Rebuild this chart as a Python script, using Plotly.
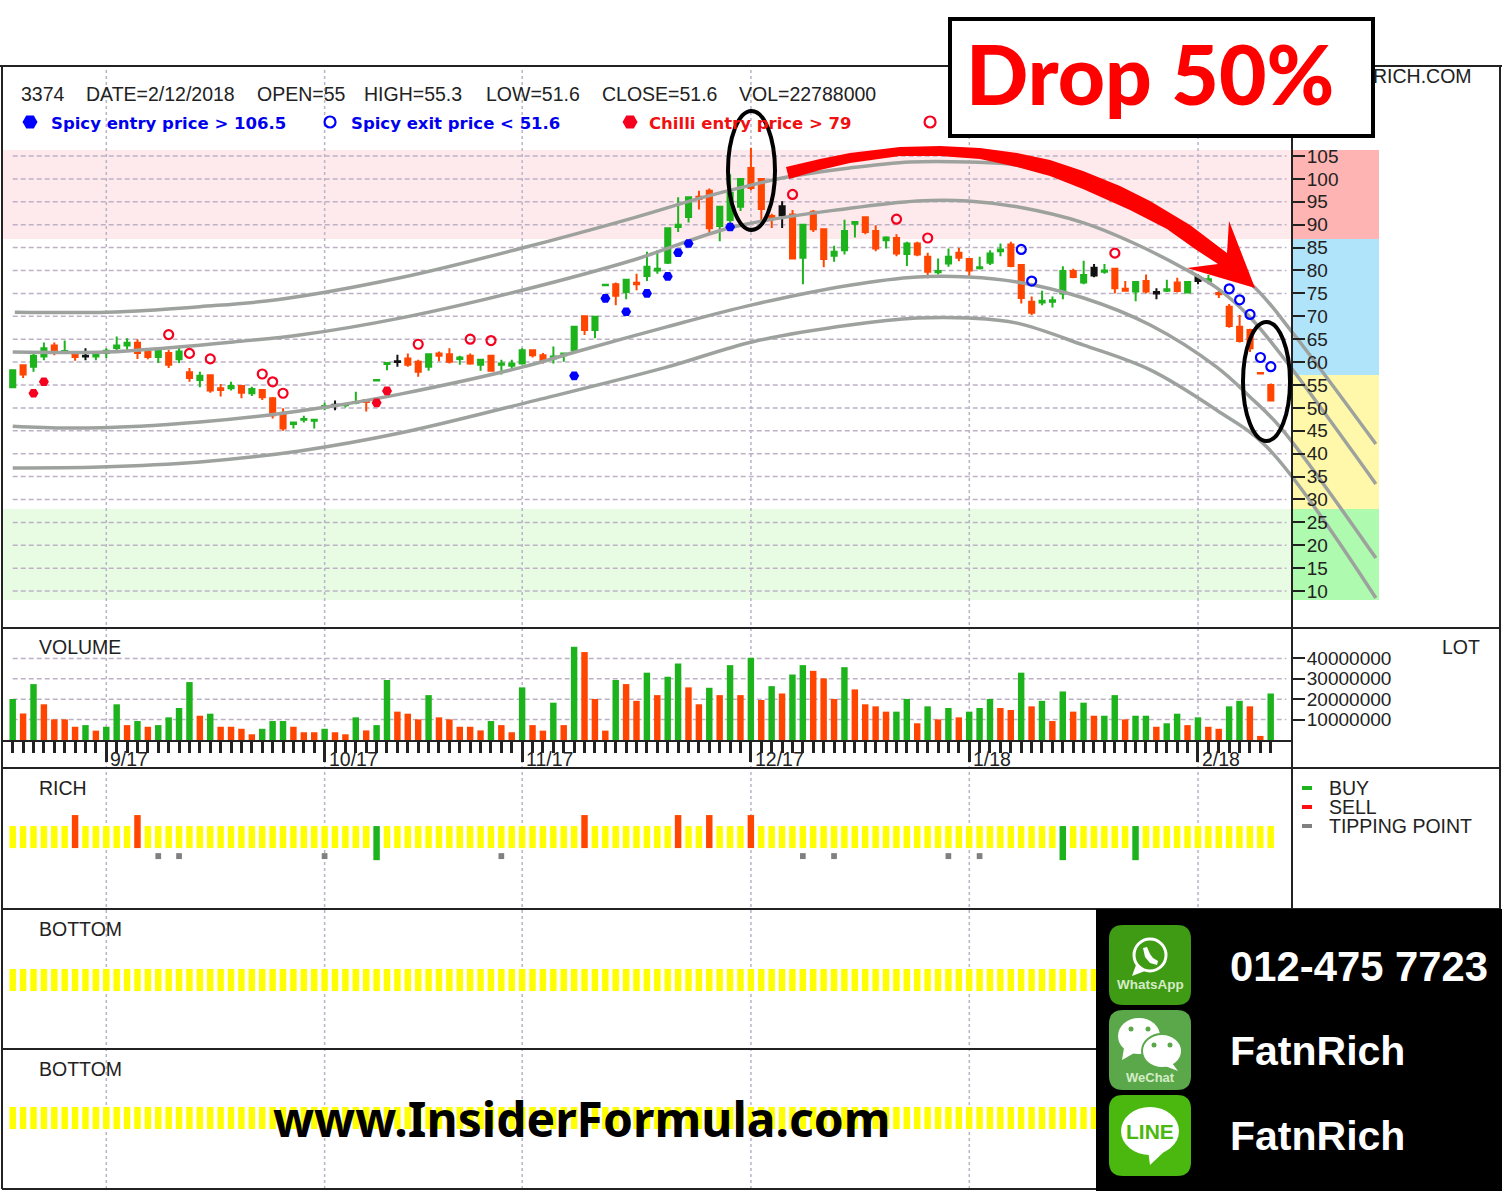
import plotly.graph_objects as go

W, H = 1502, 1191
def X(p): return p / W
def Y(p): return 1 - p / H
def P(x, y): return f"{X(x):.5f},{Y(y):.5f}"
def poly(pts): return "M " + " L ".join(P(a, b) for a, b in pts) + " Z"
def rrect(x0, y0, x1, y1, r):
    return (f"M {P(x0+r,y0)} L {P(x1-r,y0)} Q {P(x1,y0)} {P(x1,y0+r)} L {P(x1,y1-r)} Q {P(x1,y1)} {P(x1-r,y1)} "
            f"L {P(x0+r,y1)} Q {P(x0,y1)} {P(x0,y1-r)} L {P(x0,y0+r)} Q {P(x0,y0)} {P(x0+r,y0)} Z")

# ---------- data ----------
days = list(range(122))
opens = [54.5,59.3,59,61.2,63.6,62.2,62.2,61.4,61.2,62,63.1,63.6,64.2,62.5,61.1,62,60.6,57.8,56.1,57.1,54.3,54.3,54.8,53.2,53.9,52.1,48.8,46.5,47.4,47.2,50.1,50.5,50.6,51.1,51.7,56,59.6,60,60.8,60.1,59,61.9,61.7,60.7,61.4,59.4,61.4,59.4,59.2,59.7,62.6,61.5,60.8,61.5,62.6,70,67,76.8,77,75.3,77.3,78.8,80,81.7,89.5,91.7,96.1,97.4,89.7,91,93.9,102.4,100,91.9,92,92.2,82.8,92.8,89,83.2,84.4,90.2,91.6,88.6,86.6,87.1,83.6,85.9,83,79.6,81.5,83.9,82.5,80.5,81.7,84.2,85.7,81.2,73.2,73,73.2,75,79.9,77.4,78.9,79.7,80.4,76,75.4,77.7,75,75.6,77.4,75.2,77.7,77.7,75.1,72.1,67.7,67,57.6,55]
highs = [58.2,59.3,62.3,64.3,64.3,64.7,62.2,63,62,63,65.6,65.2,65,62.6,62.9,62.7,63.4,58.7,57.9,57.1,55.2,55.7,54.8,54.6,53.9,52.4,49.9,47,48.3,47.4,51.1,51.6,50.7,53.5,51.7,56.1,59.8,61.6,61.9,60.5,61.7,62.3,63,61.4,61.9,60.5,61.4,60.5,60.5,63,62.6,62,63.4,61.9,67.7,70.2,69.9,76.9,77.4,78,79.3,84.1,84.4,89.2,96,96.1,97.4,97.9,93.9,101,100,106.8,100,92.4,95.1,93.2,90,93.2,89,85.4,91.1,90.6,91.6,89.9,87.5,87.9,86.3,86.3,83.9,82.6,84.8,84.9,82.5,83,84.4,85.9,86.3,81.2,74.3,75.6,74.3,80.9,80.4,82.1,81.4,81.4,80.4,77.7,77.5,79.1,76.1,78,78.4,77.5,79.2,79,75.7,72.7,70.3,67.3,57.6,55.3]
lows = [54.3,56.5,57.9,60.4,61.5,62,60.3,60.4,60.4,60.9,62,62.7,60.7,60.6,59.8,58.7,59.8,55.7,54.5,53.3,52.5,53.8,52.1,52.6,51.7,47.7,45,45.5,46.8,45.5,49.5,49.5,50.1,50.8,49.2,56,58.2,59,59,56.8,58.1,60.2,59.7,59.4,59.4,58.1,58,57.3,58.6,59.5,61,59.7,59.7,60.1,62.3,65.9,65.2,76.8,72.4,73.7,75.7,77.7,79.3,81.4,88.4,90.5,93.3,88.1,86.4,90,93,97.5,90.6,89.3,89.3,82.5,77,88.4,80.7,81.9,83.5,87.2,87.9,84.2,84.8,83.1,81,83.1,78.3,79.1,80.8,82,78.6,80.2,81.2,83.1,80.7,72.8,70.3,72.4,71.9,73.7,78.3,77,78.5,79.3,75,75.5,73.3,75,73.7,75.3,75.2,75.2,77,77,74,67.5,64.3,62.2,57.5,51.6]
closes = [58.2,57.3,61.4,63,62.1,62.4,61.1,61.2,61.6,62.5,63.6,64.2,62,61.1,62.9,59.4,62.3,56.5,57,53.8,53.9,54.8,53.3,54.1,52.3,48.4,45.5,46.8,47.6,47.4,50.4,50.7,50.7,51.3,51.3,56.1,59.8,60.2,59.4,57.9,61.7,61.4,60.1,61,59.7,60.5,58.1,59.7,59.7,62.6,61.5,60.2,61.2,61.9,67.7,67,69.9,76.9,74.5,78,77,80.8,80.4,89.2,90,96,95.6,89.2,93.9,97,100,98,93.4,91.5,94,82.6,90,89,82.5,84.1,88.6,90.6,88.4,84.8,87.2,83.7,85.9,83.5,79.7,79.9,83,82.8,80,80.7,83.7,84.6,81,74,70.8,73.4,73.5,79.9,78.6,79,80.6,80,76.1,75.6,77.5,75.4,75.3,75.9,75.5,77.5,78.6,78.1,74.8,67.9,64.6,63,57.5,51.6]
candle_colors = list(
    "grggrgrkgg" "ggrrgrgrgr" "rgrgrrrggg"
    "gkggrggkrr" "grrgrgrggg" "rrgggrggrg"
    "rgggggrrgg" "grrrkrgrrg" "ggrrgrgrrg"
    "grrgggrrrg" "ggrgkgrrgr" "kgrgkgrrrr"
    "rr")

vol_m = [20.1,13,27.4,17.5,10.1,10.1,6.5,7.3,4.6,6.5,17.5,7.3,9.3,6.5,7.3,11.1,15.7,28.4,11.9,12.9,6.5,6.5,5.5,2.8,5.5,9.3,9.3,6.5,3.8,3.8,5.5,3.8,2.8,11.1,4.7,7.3,29.4,13.9,12.9,10.1,22,11.1,10.1,6.5,6.5,4.7,9.3,7.3,3.8,25.8,7.3,4.6,18.3,7.3,45.7,43.1,20.1,4.6,29.4,27.4,19.2,33,22,31,37.5,25.8,17.5,25.6,22,36.7,22,40.3,19.6,26.4,22.8,32.1,36.7,33.9,30.2,20.1,35.7,24.8,17.5,16.5,13.9,13.9,20.1,8.2,16.5,10.1,15.7,11.1,13.9,15.7,20.1,15.7,14.7,33,16.5,19.2,9.3,23.8,13.9,18.3,11.9,11.9,22,10.1,11.9,11.9,6.5,8.2,12.9,7.3,11.1,6.5,5.5,16.5,19.2,16.5,2,22.8]
vol_green = [0,2,7,9,10,12,14,15,16,17,19,24,25,26,30,33,35,36,40,46,49,52,54,58,61,63,64,67,69,71,73,75,76,80,85,86,88,90,92,93,94,97,99,101,103,105,106,108,109,111,112,114,117,118,121]

rich_sell = [6,12,55,64,67,71]
rich_buy = [35,101,108]
rich_tip = [14,16,30,47,76,79,90,93]

chilli_in_x, chilli_in_y = [2,3,35,36], [53.2,55.7,51.1,53.7]
spicy_in_x, spicy_in_y = [54,57,59,61,63,64,65,69], [57,73.9,71,75,78.7,83.9,85.9,89.5]
chilli_out_x, chilli_out_y = [15,17,19,24,25,26,39,44,46,75,85,88,106], [66,61.9,60.7,57.4,55.7,53.2,63.9,65,64.7,96.6,91.2,87.1,83.8]
spicy_out_x, spicy_out_y = [97,98,117,118,119,120,121], [84.6,77.7,76,73.6,70.4,61,59]

band1_x = [0.2,9.07,13.7,18,25.4,37.25,49,59.7,66.1,71.1,74.5,80.5,86.3,91.9,96.6,103,109.4,114.2,119.5,123.1,131.1]
band1_y = [70.9,70.9,71.4,72.1,73.6,78.4,84.9,91.5,95.8,98.7,100.4,102.4,103.7,103.7,103,99.1,92.1,85.6,76.2,66.4,42.1]
band2_x = [0,9.07,14.8,21.2,27.6,37.25,49,59.7,69.3,80.5,87,91.9,96.6,103,107.8,112.6,115.8,119,122.6,131.1]
band2_y = [62.2,62.2,63.1,64.4,65.9,69.6,75.7,82.3,89.5,93.6,95.2,95.2,93.9,90.4,86,80.5,76.2,69.8,59.8,33.4]
band3_x = [0,5.2,12.2,18,24.5,30.8,37.25,49,54.1,62.9,71.1,80.5,87,91.9,96.6,103,109.4,115.8,119,121.9,131.1]
band3_y = [46,45.6,46,46.9,48.4,50.4,53,58.9,62.2,67.7,72.5,76.8,78.6,78.6,77.5,74,68.1,58.9,52.4,45.8,17.2]
band4_x = [0,8.4,18,27.6,37.25,50.4,62.9,71.1,80.5,87,91.9,96.6,103,109.4,115.8,120.6,131.1]
band4_y = [36.9,37.1,38.2,40.6,44.5,51.7,58.9,64.4,68.1,69.6,69.6,68.5,63.7,58.3,49.5,41.5,8.5]

price_ticks = [105,100,95,90,85,80,75,70,65,60,55,50,45,40,35,30,25,20,15,10]
vol_ticks = [10000000,20000000,30000000,40000000]
month_pos = [9,30,49,71,92,114]
month_labels = ["9/17","10/17","11/17","12/17","1/18","2/18"]

# ---------- styles ----------
GREEN, RED, BLACK = "#1db31d", "#ff4500", "#111111"
col = {"g": GREEN, "r": RED, "k": BLACK}
GRID = "#bdb1c6"
FONT = "Liberation Sans"
TXT = "#222222"
FS = 19.5
TICK_FS = 19

fig = go.Figure()

# bands
for bx, by in [(band1_x, band1_y), (band2_x, band2_y), (band3_x, band3_y), (band4_x, band4_y)]:
    fig.add_trace(go.Scatter(x=bx, y=by, mode="lines", xaxis="x", yaxis="y", showlegend=False,
                             line=dict(color="#9ea29e", width=3.5, shape="spline", smoothing=1.0)))

# candles
for key in "grk":
    idx = [candle_colors[d] == key for d in days]
    sel = lambda arr: [v if m else None for v, m in zip(arr, idx)]
    fig.add_trace(go.Candlestick(
        x=days, open=sel(opens), high=sel(highs), low=sel(lows), close=sel(closes),
        increasing=dict(line=dict(color=col[key], width=2), fillcolor=col[key]),
        decreasing=dict(line=dict(color=col[key], width=2), fillcolor=col[key]),
        whiskerwidth=0, xaxis="x", yaxis="y", showlegend=False, hoverinfo="skip"))

# markers
def mk(xs, ys, color, sym, size, lw=0):
    fig.add_trace(go.Scatter(x=xs, y=ys, mode="markers", xaxis="x", yaxis="y", showlegend=False,
                             marker=dict(color=color, symbol=sym, size=size, line=dict(width=lw, color=color))))
mk(chilli_in_x, chilli_in_y, "#f5001e", "hexagon2", 10)
mk(spicy_in_x, spicy_in_y, "#0000ff", "hexagon2", 10)
mk(chilli_out_x, chilli_out_y, "#f5001e", "circle-open", 9, 2.2)
mk(spicy_out_x, spicy_out_y, "#0000ff", "circle-open", 9, 2.2)

# volume
fig.add_trace(go.Bar(x=days, y=[v * 1e6 for v in vol_m], width=0.62, xaxis="x2", yaxis="y2", showlegend=False,
                     marker=dict(color=[GREEN if d in vol_green else RED for d in days], line=dict(width=0))))

# signal panes
r_base = [-0.55 if d in rich_buy else 0 for d in days]
r_height = [1.55 if d in rich_buy else (1.5 if d in rich_sell else 1) for d in days]
r_color = [GREEN if d in rich_buy else (RED if d in rich_sell else "#ffff00") for d in days]
fig.add_trace(go.Bar(x=days, y=r_height, base=r_base, width=0.62, xaxis="x3", yaxis="y3", showlegend=False,
                     marker=dict(color=r_color, line=dict(width=0))))
fig.add_trace(go.Bar(x=rich_tip, y=[0.27] * len(rich_tip), base=[-0.5] * len(rich_tip), width=0.55, xaxis="x3", yaxis="y3",
                     showlegend=False, marker=dict(color="#808080", line=dict(width=0))))
for xa, ya in [("x4", "y4"), ("x5", "y5")]:
    fig.add_trace(go.Bar(x=days, y=[1] * len(days), width=0.62, xaxis=xa, yaxis=ya, showlegend=False,
                         marker=dict(color="#ffff00", line=dict(width=0))))

# ---------- shapes ----------
shapes = []
def line(x0, y0, x1, y1, color="#222222", width=2):
    shapes.append(dict(type="line", xref="paper", yref="paper", x0=X(x0), y0=Y(y0), x1=X(x1), y1=Y(y1),
                       line=dict(color=color, width=width), layer="above"))
def pzone(x0, x1, y0, y1, fill):
    shapes.append(dict(type="rect", xref="paper", yref="paper", x0=X(x0), x1=X(x1), y0=Y(y0), y1=Y(y1),
                       fillcolor=fill, line=dict(width=0), layer="below"))
pzone(2, 1292, 150, 239, "#feeaec")
pzone(2, 1292, 509, 600, "#e8fce4")
pzone(1292, 1379, 150, 239, "#fdb4b2")
pzone(1292, 1379, 239, 375, "#b0e4fa")
pzone(1292, 1379, 375, 509, "#fff8aa")
pzone(1292, 1379, 509, 600, "#aefaae")
for p in price_ticks:
    shapes.append(dict(type="line", xref="x", yref="y", x0=0, x1=122.5, y0=p, y1=p, layer="below",
                       line=dict(color=GRID, width=1.5, dash="5px,3px")))
for v in vol_ticks:
    shapes.append(dict(type="line", xref="x2", yref="y2", x0=0, x1=122.5, y0=v, y1=v, layer="below",
                       line=dict(color=GRID, width=1.5, dash="5px,3px")))
for m in month_pos:
    shapes.append(dict(type="line", xref="x", yref="paper", x0=m, x1=m, y0=Y(1189), y1=Y(66), layer="below",
                       line=dict(color="#b8b4c8", width=1.5, dash="3px,3px")))

# frame
line(0, 66, 1502, 66); line(2, 66, 2, 1189); line(1500, 66, 1500, 909)
line(2, 628, 1500, 628); line(2, 768, 1500, 768); line(2, 909, 1500, 909); line(2, 1049, 1100, 1049)
line(2, 1189, 1100, 1189); line(1292, 66, 1292, 909)
for yy, c in [(788, GREEN), (807, "#ff1010"), (826, "#808080")]:
    line(1302, yy, 1312, yy, c, 4)

# ellipses
for x0, y0, x1, y1 in [(728, 111, 775, 230), (1243, 322, 1290, 441)]:
    shapes.append(dict(type="circle", xref="paper", yref="paper", x0=X(x0), x1=X(x1), y0=Y(y0), y1=Y(y1),
                       line=dict(color="#000000", width=4), layer="above"))

# arrow
arrow = [(786,167),(820,159),(850,153),(900,147),(940,146),(980,148),(1017,153),(1050,160),(1083,171),(1120,186),
         (1150,201),(1190,225),(1227,253),(1229,221),(1255,288),(1187,268),(1218,264),(1195,249),(1167,229),
         (1130,210),(1083,189),(1050,176),(1017,167),(980,159),(940,156),(900,156),(850,163),(820,170),(789,179)]
shapes.append(dict(type="path", xref="paper", yref="paper", path=poly(arrow), fillcolor="#ff0000",
                   line=dict(width=0), layer="above"))
# title box
shapes.append(dict(type="rect", xref="paper", yref="paper", x0=X(950), x1=X(1373), y0=Y(19), y1=Y(136),
                   fillcolor="#ffffff", line=dict(color="#000000", width=4), layer="above"))
# contact panel
shapes.append(dict(type="rect", xref="paper", yref="paper", x0=X(1096), x1=X(1502), y0=Y(909), y1=Y(1191),
                   fillcolor="#000000", line=dict(width=0), layer="above"))
def ell(cx, cy, rx, ry, fill="#ffffff", lc=None, lw=0):
    shapes.append(dict(type="circle", xref="paper", yref="paper", x0=X(cx-rx), x1=X(cx+rx), y0=Y(cy-ry), y1=Y(cy+ry),
                       fillcolor=fill, line=dict(color=lc or fill, width=lw), layer="above"))
def path(d, fill, lc=None, lw=0):
    shapes.append(dict(type="path", xref="paper", yref="paper", path=d, fillcolor=fill,
                       line=dict(color=lc or fill, width=lw), layer="above"))
path(rrect(1109, 925, 1191, 1005, 14), "#3f9a14")
ell(1150, 955, 16, 16, "#3f9a14", "#ffffff", 3)
path(poly([(1136,965),(1132,976),(1145,971)]), "#ffffff")
path(poly([(1143,948),(1147,947),(1150,954),(1153,958),(1158,961),(1157,965),(1150,963),(1145,957)]), "#ffffff")
path(rrect(1109, 1010, 1191, 1090, 14), "#5aa84a")
ell(1139, 1036, 21, 18); path(poly([(1124,1048),(1122,1060),(1136,1052)]), "#ffffff")
ell(1162, 1051, 20, 17, "#ffffff", "#5aa84a", 2); path(poly([(1172,1063),(1178,1071),(1165,1066)]), "#ffffff")
for cx, cy, c in [(1131,1029,"#5aa84a"),(1148,1029,"#5aa84a"),(1154,1045,"#5aa84a"),(1170,1045,"#5aa84a")]:
    ell(cx, cy, 2.5, 2.5, c)
path(rrect(1109, 1095, 1191, 1176, 14), "#4ab80f")
ell(1150, 1131, 29, 24); path(poly([(1148,1150),(1150,1165),(1168,1148)]), "#ffffff")

# ---------- text ----------
ann = []
def T(x, y, s, color=TXT, size=FS, bold=False, anchor="left", fam=FONT, weight=None):
    f = dict(family=fam, size=size, color=color)
    if weight:
        f["weight"] = weight
    ann.append(dict(xref="paper", yref="paper", x=X(x), y=Y(y), text=f"<b>{s}</b>" if bold else s, showarrow=False,
                    xanchor=anchor, yanchor="middle", font=f, borderpad=0))
for x, s in [(20, "3374"), (85, "DATE=2/12/2018"), (256, "OPEN=55"), (363, "HIGH=55.3"), (485, "LOW=51.6"),
             (601, "CLOSE=51.6"), (738, "VOL=22788000")]:
    T(x, 94, s)
T(50, 123, "Spicy entry price &gt; 106.5", "#0000ee", 16.5, True, fam="DejaVu Sans")
T(350, 123, "Spicy exit price &lt; 51.6", "#0000ee", 16.5, True, fam="DejaVu Sans")
T(648, 123, "Chilli entry price &gt; 79", "#f01010", 16.5, True, fam="DejaVu Sans")
T(1473, 76, "RICH.COM", anchor="right")
T(38, 647, "VOLUME"); T(38, 788, "RICH"); T(38, 929, "BOTTOM"); T(38, 1069, "BOTTOM"); T(1441, 647, "LOT")
T(1328, 788, "BUY"); T(1328, 807, "SELL"); T(1328, 826, "TIPPING POINT")
T(965, 73, "Drop 50%", "#ff0000", 82, False, fam="Lato", weight=900)
T(272, 1118, "www.InsiderFormula.com", "#000000", 48, True, fam="Noto Sans")
T(1229, 966, "012-475 7723", "#ffffff", 41.8, True)
T(1229, 1051, "FatnRich", "#ffffff", 41, True)
T(1229, 1136, "FatnRich", "#ffffff", 41, True)
T(1150, 985, "WhatsApp", "#d5ecc6", 13.5, True, "center")
T(1150, 1077, "WeChat", "#d5ecc6", 13, True, "center")
T(1150, 1131, "LINE", "#4ab80f", 21, True, "center")
for m, s in zip(month_pos, month_labels):
    ann.append(dict(xref="x2", yref="paper", x=m, y=Y(759), text=s, showarrow=False, xanchor="left", xshift=2,
                    yanchor="middle", font=dict(family=FONT, size=FS, color=TXT)))

# marker keys in the header line
header_keys = [(30, "#0000ff", "hexagon2", 0), (330, "#0000ff", "circle-open", 2.2),
               (630, "#f5001e", "hexagon2", 0), (930, "#f5001e", "circle-open", 2.2)]
for hx, hc, hs, lw in header_keys:
    fig.add_trace(go.Scatter(x=[(hx - 12.7) / 10.397], y=[105 - (122 - 156) / 4.58], mode="markers", xaxis="x", yaxis="y",
                             showlegend=False, marker=dict(color=hc, symbol=hs, size=11 if lw else 15, line=dict(width=lw, color=hc))))

# ---------- axes ----------
i_left = -1.03
x_main = dict(domain=[X(2), X(1380)], range=[i_left, 131.5], visible=False, rangeslider=dict(visible=False), fixedrange=True)
x_sub = dict(domain=[X(2), X(1292)], range=[i_left, 123.05], fixedrange=True)
hidden = dict(visible=False)
fig.update_layout(
    width=W, height=H, margin=dict(l=0, r=0, t=0, b=0, pad=0, autoexpand=False),
    paper_bgcolor="#ffffff", plot_bgcolor="rgba(0,0,0,0)", barmode="overlay", showlegend=False,
    shapes=shapes, annotations=ann, font=dict(family=FONT, color=TXT), hovermode=False,
    xaxis=x_main,
    yaxis=dict(domain=[Y(628), Y(66)], range=[1.94, 124.65], anchor="free", position=X(1292), side="right",
               tickvals=price_ticks, ticks="outside", ticklen=12, tickwidth=2, tickcolor="#222222", ticklabelstandoff=-2,
               showline=False, showgrid=False, zeroline=False, tickfont=dict(size=TICK_FS, family=FONT, color=TXT), fixedrange=True),
    xaxis2=dict(**x_sub, anchor="y2", showline=True, linecolor="#222222", linewidth=2, showgrid=False, zeroline=False,
                tickmode="array", tickvals=month_pos, showticklabels=False, ticks="outside", ticklen=20, tickwidth=2.5, tickcolor="#222222",
                minor=dict(tickmode="array", tickvals=days, ticks="outside", ticklen=11, tickwidth=2.5, tickcolor="#222222", showgrid=False)),
    yaxis2=dict(domain=[Y(740), Y(628)], range=[0, 54.9e6], anchor="free", position=X(1292), side="right",
                tickvals=vol_ticks, ticks="outside", ticklen=12, tickwidth=2, tickcolor="#222222", tickformat="d", ticklabelstandoff=-2,
                showline=False, showgrid=False, zeroline=False, tickfont=dict(size=TICK_FS, family=FONT, color=TXT), fixedrange=True),
    xaxis3=dict(**x_sub, anchor="y3", **hidden),
    yaxis3=dict(domain=[Y(909), Y(768)], range=[-2.77, 3.64], anchor="x3", **hidden),
    xaxis4=dict(**x_sub, anchor="y4", **hidden),
    yaxis4=dict(domain=[Y(1049), Y(909)], range=[-2.64, 3.73], anchor="x4", **hidden),
    xaxis5=dict(**x_sub, anchor="y5", **hidden),
    yaxis5=dict(domain=[Y(1189), Y(1049)], range=[-2.73, 3.64], anchor="x5", **hidden),
)

fig.write_html("out.html", config=dict(displayModeBar=False),
               post_script="document.body.style.margin='0';document.documentElement.style.overflow='hidden';")
